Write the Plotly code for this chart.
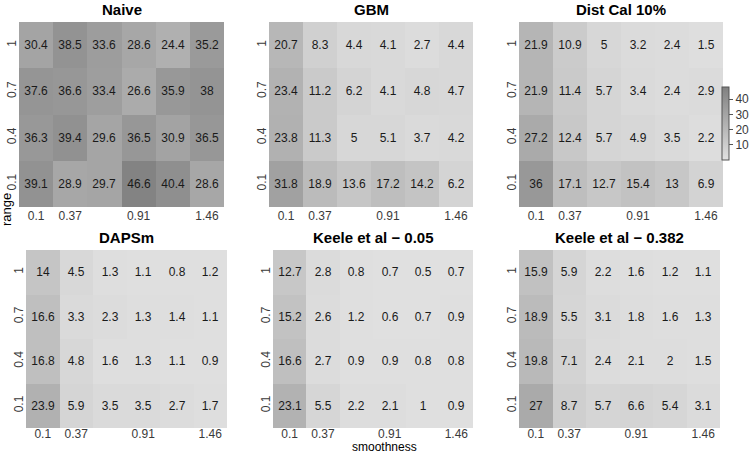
import plotly.graph_objects as go

W, H = 755, 455

smoothness_labels = ["0.1", "0.37", "", "0.91", "", "1.46"]
range_labels = ["0.1", "0.4", "0.7", "1"]  # bottom to top

titles = ["Naive", "GBM", "Dist Cal 10%", "DAPSm", "Keele et al \u2212 0.05", "Keele et al \u2212 0.382"]

# rows ordered by range: 0.1, 0.4, 0.7, 1
naive = [
    [39.1, 28.9, 29.7, 46.6, 40.4, 28.6],
    [36.3, 39.4, 29.6, 36.5, 30.9, 36.5],
    [37.6, 36.6, 33.4, 26.6, 35.9, 38],
    [30.4, 38.5, 33.6, 28.6, 24.4, 35.2],
]
gbm = [
    [31.8, 18.9, 13.6, 17.2, 14.2, 6.2],
    [23.8, 11.3, 5, 5.1, 3.7, 4.2],
    [23.4, 11.2, 6.2, 4.1, 4.8, 4.7],
    [20.7, 8.3, 4.4, 4.1, 2.7, 4.4],
]
distcal = [
    [36, 17.1, 12.7, 15.4, 13, 6.9],
    [27.2, 12.4, 5.7, 4.9, 3.5, 2.2],
    [21.9, 11.4, 5.7, 3.4, 2.4, 2.9],
    [21.9, 10.9, 5, 3.2, 2.4, 1.5],
]
dapsm = [
    [23.9, 5.9, 3.5, 3.5, 2.7, 1.7],
    [16.8, 4.8, 1.6, 1.3, 1.1, 0.9],
    [16.6, 3.3, 2.3, 1.3, 1.4, 1.1],
    [14, 4.5, 1.3, 1.1, 0.8, 1.2],
]
keele005 = [
    [23.1, 5.5, 2.2, 2.1, 1, 0.9],
    [16.6, 2.7, 0.9, 0.9, 0.8, 0.8],
    [15.2, 2.6, 1.2, 0.6, 0.7, 0.9],
    [12.7, 2.8, 0.8, 0.7, 0.5, 0.7],
]
keele0382 = [
    [27, 8.7, 5.7, 6.6, 5.4, 3.1],
    [19.8, 7.1, 2.4, 2.1, 2, 1.5],
    [18.9, 5.5, 3.1, 1.8, 1.6, 1.3],
    [15.9, 5.9, 2.2, 1.6, 1.2, 1.1],
]
panels = [naive, gbm, distcal, dapsm, keele005, keele0382]

# panel pixel boxes (x0, x1, y0, y1) from top-left
boxes = [
    (19, 224, 22, 207),
    (269, 473, 22, 207),
    (519, 723, 22, 207),
    (26, 227, 250, 428),
    (273, 473, 250, 428),
    (519, 720, 250, 428),
]

FONT = "Liberation Sans, Arial, Helvetica, sans-serif"
xs = list(range(len(smoothness_labels)))
ys = list(range(len(range_labels)))
tickvals_x = [i for i, t in enumerate(smoothness_labels) if t]
ticktext_x = [t for t in smoothness_labels if t]

fig = go.Figure()
layout = dict(
    width=W, height=H,
    margin=dict(l=0, r=0, t=0, b=0),
    paper_bgcolor="white", plot_bgcolor="white",
    font=dict(family=FONT, color="#3a3a3a"),
    showlegend=False,
    coloraxis=dict(
        cmin=0, cmax=48,
        colorscale=[[0, "rgb(225,225,225)"], [1, "rgb(128,128,128)"]],
        colorbar=dict(
            x=722 / W, xanchor="left", xpad=0, ypad=0,
            y=1 - 123.5 / H, yanchor="middle",
            lenmode="pixels", len=73,
            thicknessmode="pixels", thickness=7,
            outlinewidth=1, outlinecolor="#555555",
            tickvals=[10, 20, 30, 40],
            ticks="outside", ticklen=4, tickcolor="#555555",
            tickfont=dict(size=12, color="#3a3a3a", family=FONT),
        ),
    ),
)

annotations = []
for i, (z, box, title) in enumerate(zip(panels, boxes, titles)):
    n = "" if i == 0 else str(i + 1)
    x0, x1, y0, y1 = box
    text = [[f"{v:g}" for v in row] for row in z]
    fig.add_trace(go.Heatmap(
        z=z, x=xs, y=ys, text=text, texttemplate="%{text}",
        textfont=dict(size=12, color="#1a1a1a", family=FONT),
        coloraxis="coloraxis", xaxis="x" + n, yaxis="y" + n,
        xgap=0, ygap=0, hoverinfo="skip",
    ))
    layout["xaxis" + n] = dict(
        domain=[x0 / W, x1 / W], anchor="y" + n,
        range=[-0.5, len(xs) - 0.5],
        tickvals=tickvals_x, ticktext=ticktext_x,
        showgrid=False, zeroline=False, showline=False, ticks="",
        tickfont=dict(size=12, color="#3a3a3a"),
        ticklabelstandoff=-3 if i >= 3 else 0,
    )
    layout["yaxis" + n] = dict(
        domain=[1 - y1 / H, 1 - y0 / H], anchor="x" + n,
        range=[-0.5, len(ys) - 0.5],
        tickvals=ys, ticktext=range_labels, tickangle=-90,
        showgrid=False, zeroline=False, showline=False, ticks="",
        tickfont=dict(size=12, color="#3a3a3a"),
    )
    annotations.append(dict(
        text="<b>" + title + "</b>", x=(x0 + x1) / 2 / W, y=1 - (y0 - 13) / H,
        xref="paper", yref="paper", xanchor="center", yanchor="middle",
        showarrow=False, font=dict(size=15, color="#000000", family=FONT),
    ))

annotations.append(dict(
    text="smoothness", x=384 / W, y=0, xref="paper", yref="paper",
    xanchor="center", yanchor="bottom", showarrow=False, borderpad=0,
    font=dict(size=12, color="#000000", family=FONT),
))
annotations.append(dict(
    text="range", x=6 / W, y=1 - 210 / H, xref="paper", yref="paper",
    xanchor="center", yanchor="middle", showarrow=False, textangle=-90,
    font=dict(size=13, color="#000000", family=FONT),
))
layout["annotations"] = annotations
fig.update_layout(**layout)
fig.write_html(
    "out.html",
    config={"displayModeBar": False},
    post_script="document.body.style.margin='0';",
)
